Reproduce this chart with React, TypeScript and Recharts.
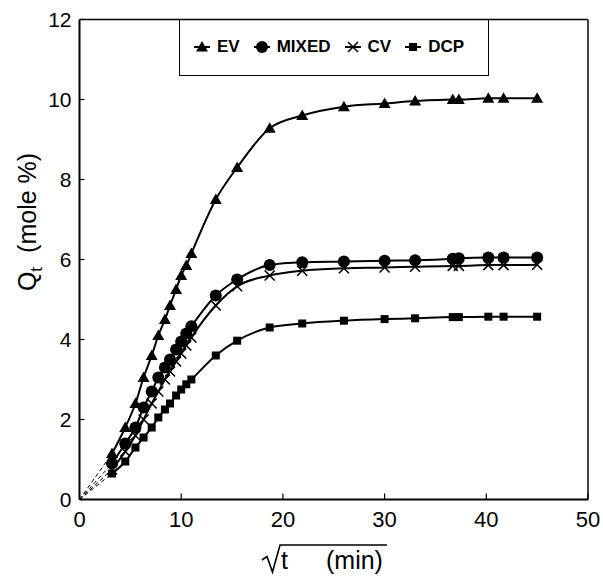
import React from "react";
import { LineChart, Line, XAxis, YAxis, ReferenceLine, Legend, Label } from "recharts";

// square root of time (min^0.5) at which each sample was taken
const sqrtT = [3.2, 4.5, 5.5, 6.3, 7.1, 7.75, 8.4, 8.9, 9.5, 10, 10.5, 11, 13.4, 15.5, 18.7, 21.9, 26, 30, 33, 36.7, 37.3, 40.2, 41.7, 45];

// Qt (mole %) per series
const ev = [1.15, 1.8, 2.4, 3.05, 3.6, 4.1, 4.5, 4.85, 5.25, 5.6, 5.85, 6.15, 7.5, 8.3, 9.28, 9.6, 9.82, 9.9, 9.96, 10.0, 10.0, 10.03, 10.03, 10.03];
const mixed = [0.9, 1.4, 1.8, 2.3, 2.7, 3.05, 3.3, 3.5, 3.75, 3.95, 4.15, 4.33, 5.1, 5.5, 5.86, 5.93, 5.95, 5.97, 5.98, 6.02, 6.03, 6.05, 6.05, 6.05];
const cv = [0.75, 1.2, 1.6, 2.0, 2.4, 2.7, 3.0, 3.2, 3.45, 3.65, 3.85, 4.05, 4.85, 5.33, 5.6, 5.72, 5.78, 5.8, 5.82, 5.84, 5.84, 5.86, 5.86, 5.87];
const dcp = [0.65, 0.95, 1.3, 1.55, 1.8, 2.05, 2.25, 2.4, 2.6, 2.75, 2.88, 3.0, 3.6, 3.97, 4.3, 4.4, 4.47, 4.51, 4.53, 4.56, 4.56, 4.57, 4.57, 4.57];

const xTicks = [0, 10, 20, 30, 40, 50];
const yTicks = [0, 2, 4, 6, 8, 10, 12];

const FONT = '"Liberation Sans", Arial, Helvetica, sans-serif';

const toPoints = (ys: number[]) => sqrtT.map((x, i) => ({ x, y: ys[i] }));
// dashed extrapolation from the origin to the first measured point
const leadIn = (ys: number[]) => [{ x: 0, y: 0 }, { x: sqrtT[0], y: ys[0] }];

type Shape = "triangle" | "circle" | "cross" | "square";

function Marker({ shape, cx, cy }: { shape: Shape; cx: number; cy: number }) {
  if (shape === "triangle")
    return <path d={`M${cx},${cy - 6} L${cx + 6},${cy + 4.5} L${cx - 6},${cy + 4.5} Z`} fill="#000" />;
  if (shape === "circle") return <circle cx={cx} cy={cy} r={6} fill="#000" />;
  if (shape === "square") return <rect x={cx - 4} y={cy - 4} width={8} height={8} fill="#000" />;
  return (
    <path
      d={`M${cx - 5},${cy - 5} L${cx + 5},${cy + 5} M${cx - 5},${cy + 5} L${cx + 5},${cy - 5}`}
      stroke="#000"
      strokeWidth={1.6}
      fill="none"
    />
  );
}

const dotOf = (shape: Shape, tag: string) => (p: any) =>
  <Marker key={`${tag}-${p.index}`} shape={shape} cx={p.cx} cy={p.cy} />;

const series: { name: string; ys: number[]; shape: Shape }[] = [
  { name: "EV", ys: ev, shape: "triangle" },
  { name: "MIXED", ys: mixed, shape: "circle" },
  { name: "CV", ys: cv, shape: "cross" },
  { name: "DCP", ys: dcp, shape: "square" },
];

function LegendBox() {
  return (
    <div
      style={{
        width: 310,
        height: 56,
        boxSizing: "border-box",
        border: "1.5px solid #000",
        borderTop: "none",
        display: "flex",
        alignItems: "center",
        paddingLeft: 12,
        fontFamily: FONT,
        fontSize: 17,
        fontWeight: "bold",
        color: "#000",
      }}
    >
      {series.map((s) => (
        <div key={s.name} style={{ display: "flex", alignItems: "center", marginRight: 12 }}>
          <svg width={20} height={16} style={{ marginRight: 5 }}>
            <line x1={2} x2={18} y1={8} y2={8} stroke="#000" strokeWidth={2} />
            <Marker shape={s.shape} cx={10} cy={8} />
          </svg>
          <span>{s.name}</span>
        </div>
      ))}
    </div>
  );
}

export default function App() {
  return (
    <div style={{ position: "absolute", left: 0, top: 0, background: "#fff" }}>
      <LineChart width={603} height={576} margin={{ top: 19.5, right: 15, left: 19.5, bottom: 46.5 }}>
        <XAxis
          type="number"
          dataKey="x"
          domain={[0, 50]}
          ticks={xTicks}
          allowDataOverflow
          height={30}
          axisLine={{ stroke: "#000", strokeWidth: 2 }}
          tickLine={{ stroke: "#000", strokeWidth: 1.2 }}
          tickSize={-6}
          tickMargin={18}
          tick={{ fill: "#000", fontSize: 22, fontFamily: FONT }}
        >
          <Label
            content={() => (
              <g fontFamily={FONT} fill="#000">
                {/* radical sign with its bar over "t (min)" */}
                <path
                  d="M262,560 L267,556.5 L272.5,572 L280,545 L387,545"
                  stroke="#000"
                  strokeWidth={1.6}
                  fill="none"
                />
                <text x={281} y={569} fontSize={25}>
                  t
                </text>
                <text x={326} y={569} fontSize={25}>
                  (min)
                </text>
              </g>
            )}
          />
        </XAxis>
        <YAxis
          type="number"
          dataKey="y"
          domain={[0, 12]}
          ticks={yTicks}
          allowDataOverflow
          width={60}
          axisLine={{ stroke: "#000", strokeWidth: 2 }}
          tickLine={{ stroke: "#000", strokeWidth: 1.2 }}
          tickSize={-5}
          tickMargin={13}
          tick={{ fill: "#000", fontSize: 21, fontFamily: FONT }}
        >
          <Label
            content={() => (
              <text
                x={0}
                y={0}
                transform="translate(36,222) rotate(-90)"
                textAnchor="middle"
                fontFamily={FONT}
                fontSize={25}
                fill="#000"
              >
                Q
                <tspan fontSize={17} dy={6}>
                  t
                </tspan>
                <tspan dy={-6} dx={14}>
                  (mole %)
                </tspan>
              </text>
            )}
          />
        </YAxis>
        <ReferenceLine y={12} stroke="#000" strokeWidth={1.5} />
        <ReferenceLine x={50} stroke="#000" strokeWidth={1.5} />
        <Legend
          layout="horizontal"
          verticalAlign="middle"
          align="center"
          content={() => <LegendBox />}
          wrapperStyle={{ position: "absolute", left: 179, top: 19.5, width: 310 }}
        />
        {series.map((s) => (
          <Line
            key={`lead-${s.name}`}
            data={leadIn(s.ys)}
            dataKey="y"
            stroke="#000"
            strokeWidth={1}
            strokeDasharray="4 3"
            dot={false}
            legendType="none"
            isAnimationActive={false}
          />
        ))}
        {series.map((s) => (
          <Line
            key={s.name}
            name={s.name}
            data={toPoints(s.ys)}
            dataKey="y"
            type="monotone"
            stroke="#000"
            strokeWidth={2}
            dot={dotOf(s.shape, s.name)}
            activeDot={false}
            isAnimationActive={false}
          />
        ))}
      </LineChart>
    </div>
  );
}
